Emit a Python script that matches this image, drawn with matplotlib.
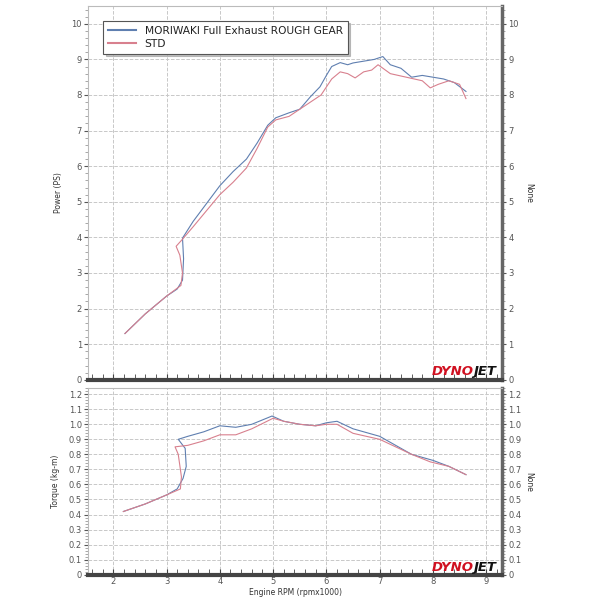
import matplotlib.pyplot as plt
import numpy as np

# Power (PS) vs rpm x1000
rpm_pw_mori = [2.22, 2.6, 3.0, 3.2, 3.3, 3.32, 3.3, 3.5, 3.75, 4.0, 4.25, 4.5, 4.7, 4.9, 5.05, 5.3, 5.5,
               5.7, 5.88, 6.0, 6.1, 6.26, 6.4, 6.5, 6.7, 6.9, 7.06, 7.2, 7.4, 7.6, 7.8, 8.0, 8.2, 8.4, 8.62]
pw_mori = [1.30, 1.85, 2.35, 2.55, 2.8, 3.4, 3.98, 4.45, 4.95, 5.45, 5.85, 6.2, 6.65, 7.15, 7.36, 7.5, 7.6,
           7.95, 8.23, 8.55, 8.8, 8.91, 8.85, 8.9, 8.95, 9.0, 9.08, 8.85, 8.75, 8.5, 8.55, 8.5, 8.45, 8.35, 8.1]
rpm_pw_std = [2.22, 2.6, 3.0, 3.27, 3.3, 3.25, 3.18, 3.3, 3.5, 3.75, 4.0, 4.25, 4.5, 4.7, 4.9, 5.05, 5.3, 5.6,
              5.9, 6.1, 6.26, 6.4, 6.54, 6.7, 6.85, 6.97, 7.2, 7.5, 7.8, 7.95, 8.1, 8.3, 8.5, 8.62]
pw_std = [1.30, 1.85, 2.35, 2.65, 3.0, 3.5, 3.75, 3.95, 4.3, 4.75, 5.2, 5.55, 5.95, 6.5, 7.1, 7.3, 7.4, 7.7,
          8.0, 8.45, 8.65, 8.6, 8.48, 8.65, 8.7, 8.85, 8.6, 8.5, 8.4, 8.2, 8.3, 8.4, 8.3, 7.9]

# Torque (kg-m) vs rpm x1000
rpm_tq_mori = [2.19, 2.6, 3.0, 3.2, 3.31, 3.37, 3.35, 3.22, 3.4, 3.7, 4.0, 4.3, 4.6, 4.98, 5.2, 5.5,
               5.8, 6.0, 6.2, 6.5, 7.0, 7.3, 7.6, 8.0, 8.3, 8.62]
tq_mori = [0.42, 0.47, 0.53, 0.57, 0.64, 0.72, 0.84, 0.90, 0.92, 0.95, 0.99, 0.98, 1.0, 1.055, 1.02, 1.0,
           0.99, 1.01, 1.02, 0.97, 0.92, 0.86, 0.80, 0.76, 0.72, 0.665]
rpm_tq_std = [2.19, 2.6, 3.0, 3.26, 3.28, 3.22, 3.16, 3.4, 3.7, 4.0, 4.3, 4.6, 5.0, 5.2, 5.5,
              5.8, 6.0, 6.2, 6.5, 7.0, 7.3, 7.6, 7.95, 8.3, 8.62]
tq_std = [0.42, 0.47, 0.53, 0.57, 0.65, 0.80, 0.85, 0.86, 0.89, 0.93, 0.93, 0.97, 1.04, 1.02, 1.0,
          0.99, 1.0, 1.0, 0.94, 0.90, 0.85, 0.80, 0.75, 0.72, 0.665]

blue = '#5f7fb0'
red = '#d8808e'
gridc = '#c8c8c8'
txtc = '#555555'

fig = plt.figure(figsize=(6, 6), dpi=100)
ax1 = fig.add_axes([0.147, 0.367, 0.69, 0.623])
ax2 = fig.add_axes([0.147, 0.041, 0.69, 0.312])


def style(ax, ylim, yticks, ylabel):
    ax.set_xlim(1.53, 9.3)
    ax.set_ylim(*ylim)
    ax.set_xticks(range(2, 10))
    ax.set_yticks(yticks)
    ax.grid(True, color=gridc, ls='--', lw=0.7)
    ax.tick_params(labelsize=6, colors=txtc, length=3, pad=1.5)
    ax.tick_params(axis='y', which='both', right=True, labelright=True, direction='out')
    ax.minorticks_on()
    ax.tick_params(axis='x', which='both', direction='in', length=4, color='#444444')
    ax.tick_params(axis='y', which='minor', length=2, color='#999999')
    for s in ['top', 'left']:
        ax.spines[s].set_color('#bbbbbb')
        ax.spines[s].set_linewidth(0.8)
    ax.spines['bottom'].set_color('#444444')
    ax.spines['bottom'].set_linewidth(3)
    ax.spines['right'].set_color('#666666')
    ax.spines['right'].set_linewidth(2.5)
    ax.set_ylabel(ylabel, fontsize=5.5, color='#333333', labelpad=6)
    r = ax.secondary_yaxis('right')
    r.set_yticks([])
    r.set_ylabel('None', fontsize=5.5, color='#333333', rotation=270, labelpad=22)
    r.spines['right'].set_visible(False)
    # logo: DYNO red + JET black
    ax.text(0.93, 0.006, 'DYNO', transform=ax.transAxes, ha='right', va='bottom',
            fontsize=9.5, fontweight='heavy', style='italic', color='#d01020')
    ax.text(0.93, 0.006, 'JET', transform=ax.transAxes, ha='left', va='bottom',
            fontsize=9.5, fontweight='heavy', style='italic', color='#111111')


style(ax1, (0, 10.5), range(0, 11), 'Power (PS)')
style(ax2, (-0.005, 1.24), np.round(np.arange(0, 1.25, 0.1), 1), 'Torque (kg-m)')
ax1.tick_params(axis='x', labelbottom=False)
ax2.set_yticklabels(['0'] + [f'{v:.1f}' for v in np.arange(0.1, 1.25, 0.1)])
ax2.set_xlabel('Engine RPM (rpmx1000)', fontsize=5.5, color='#333333', labelpad=1)

ax1.plot(rpm_pw_mori, pw_mori, color=blue, lw=0.8, label='MORIWAKI Full Exhaust ROUGH GEAR')
ax1.plot(rpm_pw_std, pw_std, color=red, lw=0.8, label='STD')
ax2.plot(rpm_tq_mori, tq_mori, color=blue, lw=0.8)
ax2.plot(rpm_tq_std, tq_std, color=red, lw=0.8)

leg = ax1.legend(loc='upper left', bbox_to_anchor=(0.024, 0.975), fontsize=7.7, frameon=True,
                 fancybox=False, shadow={'color': '0.6', 'alpha': 0.6}, handlelength=2.6,
                 borderpad=0.45, labelspacing=0.3, framealpha=1)
leg.get_frame().set_edgecolor('#555555')
leg.get_frame().set_linewidth(0.8)
for t in leg.get_texts():
    t.set_color('#222222')
for h in leg.get_lines():
    h.set_linewidth(1.5)

fig.savefig('out.png', dpi=100)
